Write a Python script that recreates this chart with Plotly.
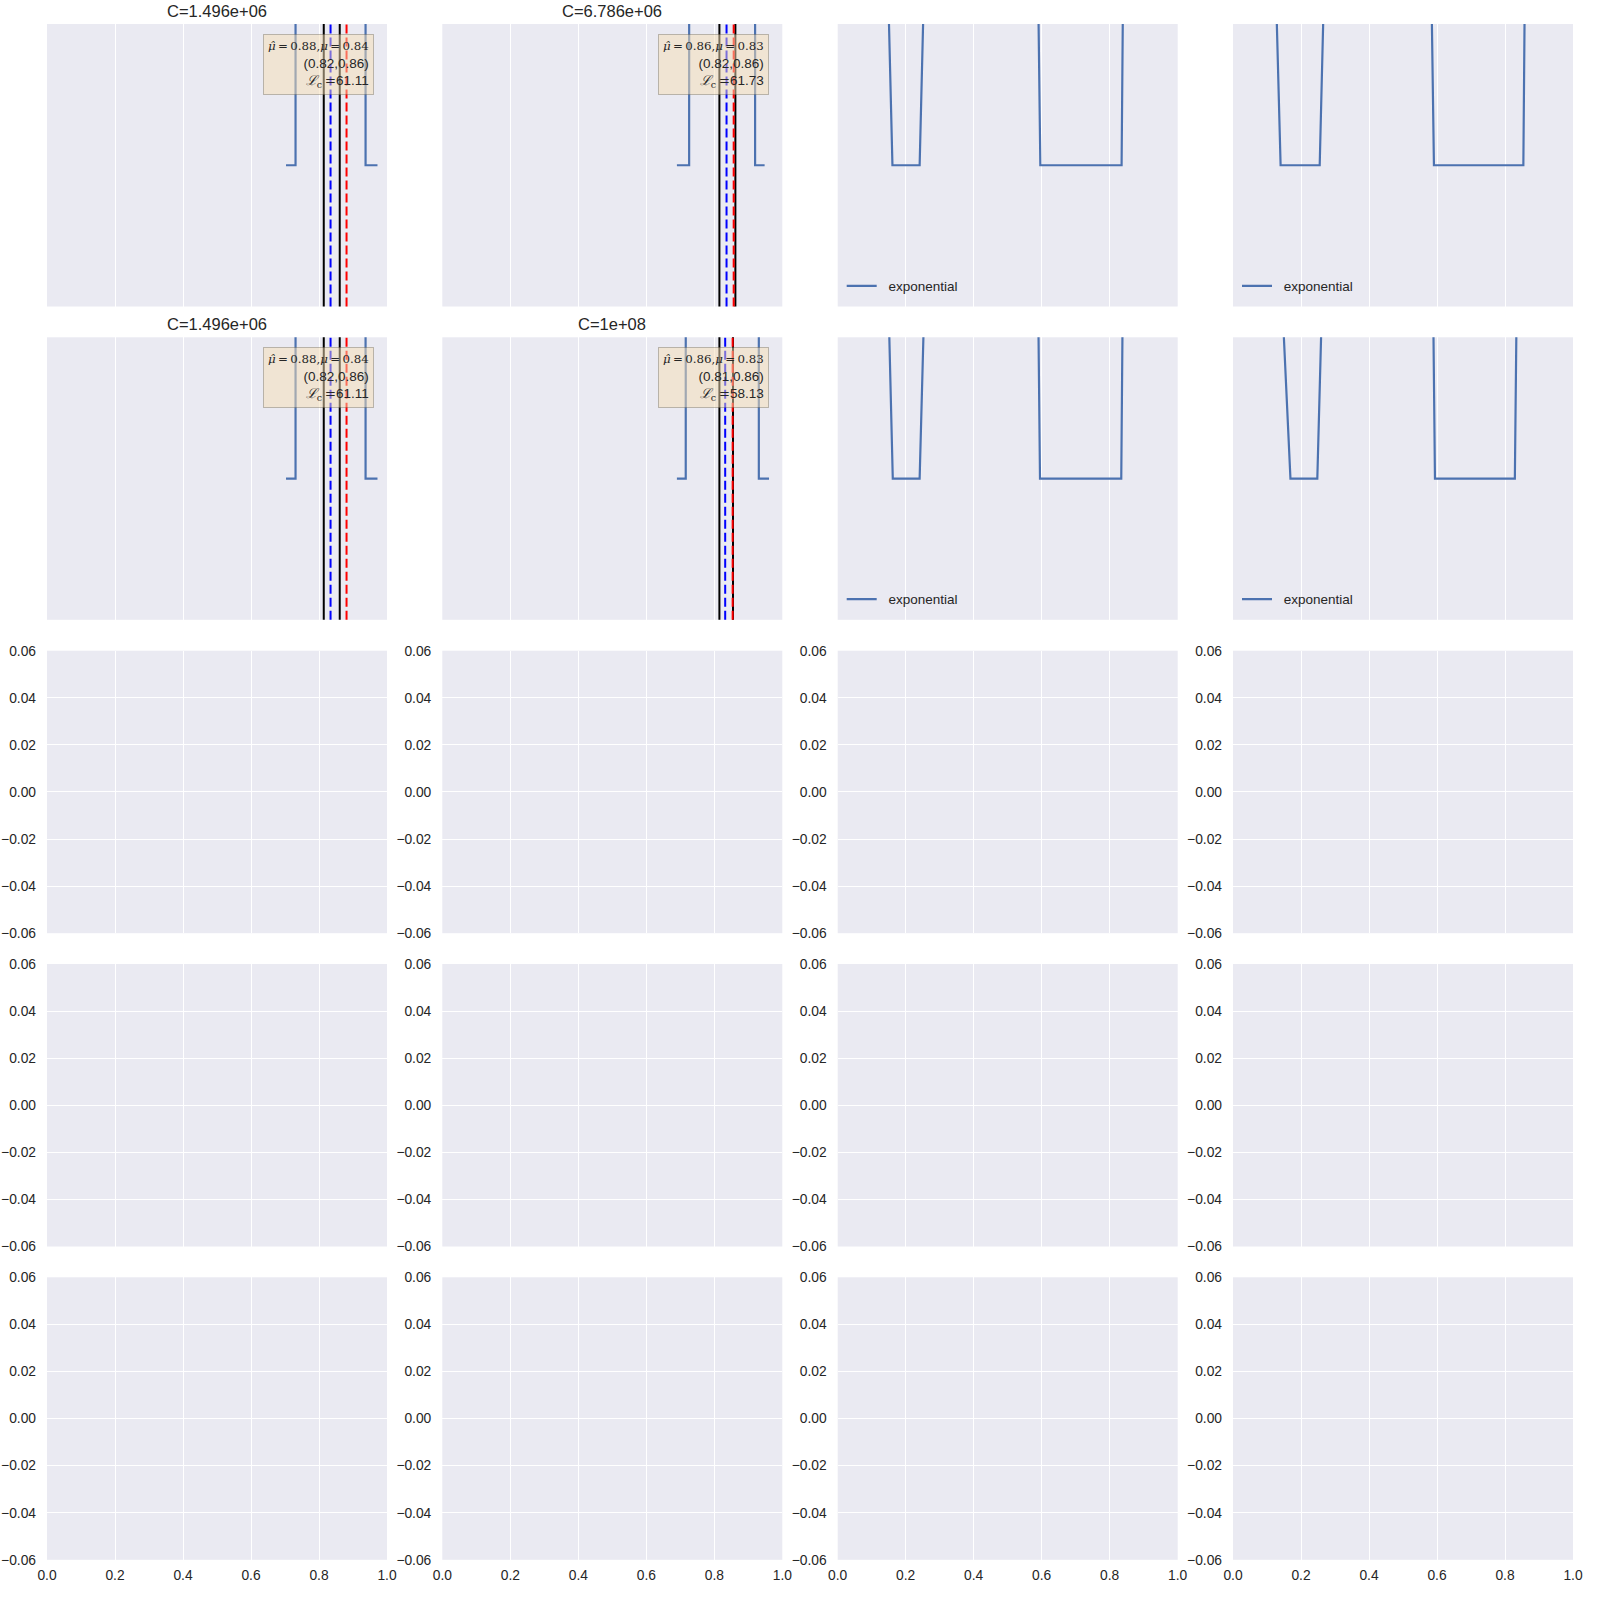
import plotly.graph_objects as go

# ---------------- data ----------------
# density-like curves (rows 1-2, cols 1-2)
post_x_r1c1 = [0.703, 0.731, 0.733, 0.80, 0.86, 0.935, 0.937, 0.972]
post_y_r1c1 = [0.0, 0.0, 3.0, 12.0, 12.0, 3.0, 0.0, 0.0]
post_x_r1c2 = [0.690, 0.726, 0.728, 0.79, 0.86, 0.918, 0.920, 0.948]
post_y_r1c2 = [0.0, 0.0, 3.0, 12.0, 12.0, 3.0, 0.0, 0.0]
post_x_r2c1 = [0.703, 0.731, 0.733, 0.80, 0.86, 0.935, 0.937, 0.972]
post_y_r2c1 = [0.0, 0.0, 3.0, 12.0, 12.0, 3.0, 0.0, 0.0]
post_x_r2c2 = [0.690, 0.716, 0.718, 0.79, 0.86, 0.929, 0.931, 0.961]
post_y_r2c2 = [0.0, 0.0, 3.0, 12.0, 12.0, 3.0, 0.0, 0.0]

# "exponential" curves (rows 1-2, cols 3-4)
exp_x_r1c3 = [0.0, 0.150, 0.161, 0.241, 0.252, 0.42, 0.590, 0.596, 0.835, 0.839, 1.0]
exp_y_r1c3 = [0.45, 0.065, 0.0, 0.0, 0.065, 0.30, 0.070, 0.0, 0.0, 0.070, 0.45]
exp_x_r1c4 = [0.0, 0.128, 0.140, 0.255, 0.266, 0.42, 0.584, 0.591, 0.854, 0.858, 1.0]
exp_y_r1c4 = [0.45, 0.065, 0.0, 0.0, 0.065, 0.30, 0.070, 0.0, 0.0, 0.070, 0.45]
exp_x_r2c3 = [0.0, 0.151, 0.162, 0.241, 0.253, 0.42, 0.590, 0.595, 0.834, 0.838, 1.0]
exp_y_r2c3 = [0.45, 0.065, 0.0, 0.0, 0.065, 0.30, 0.070, 0.0, 0.0, 0.070, 0.45]
exp_x_r2c4 = [0.0, 0.148, 0.169, 0.248, 0.260, 0.42, 0.589, 0.594, 0.829, 0.834, 1.0]
exp_y_r2c4 = [0.45, 0.065, 0.0, 0.0, 0.065, 0.30, 0.070, 0.0, 0.0, 0.070, 0.45]

# vertical markers, order: r1c1, r1c2, r2c1, r2c2
ci_lo = [0.814, 0.815, 0.814, 0.815]
ci_hi = [0.861, 0.862, 0.861, 0.855]
mu_true = [0.834, 0.836, 0.834, 0.832]
mu_hat = [0.881, 0.857, 0.881, 0.854]
mu_hat_txt = ["0.88", "0.86", "0.88", "0.86"]
mu_txt = ["0.84", "0.83", "0.84", "0.83"]
ci_txt = ["(0.82,0.86)", "(0.82,0.86)", "(0.82,0.86)", "(0.81,0.86)"]
lc_txt = ["61.11", "61.73", "61.11", "58.13"]
c_titles = ["C=1.496e+06", "C=6.786e+06", "C=1.496e+06", "C=1e+08"]

x_ticks = [0.0, 0.2, 0.4, 0.6, 0.8, 1.0]
x_ticktext = ["0.0", "0.2", "0.4", "0.6", "0.8", "1.0"]
y_ticks = [-0.06, -0.04, -0.02, 0.0, 0.02, 0.04, 0.06]
y_ticktext = ["\u22120.06", "\u22120.04", "\u22120.02", "0.00", "0.02", "0.04", "0.06"]

# ---------------- layout geometry ----------------
W = H = 1600
col_left = [47, 442.3, 837.7, 1233]
panel_w = 340
row_top = [24, 337.3, 650.7, 964, 1277.3]
panel_h = 282.5

TXT = "#262626"
BLUE = "#4C72B0"
SANS = "Liberation Sans"
SERIF = "DejaVu Serif"

fig = go.Figure()
layout = dict(
    width=W, height=H, margin=dict(l=0, r=0, t=0, b=0, autoexpand=False),
    paper_bgcolor="white", plot_bgcolor="#EAEAF2",
    font=dict(family=SANS, size=13.5, color=TXT),
    showlegend=True,
)

def ax_id(r, c):
    return r * 4 + c + 1

def ref(r, c):
    k = ax_id(r, c)
    s = "" if k == 1 else str(k)
    return "x" + s, "y" + s

for r in range(5):
    for c in range(4):
        k = ax_id(r, c)
        sx = "" if k == 1 else str(k)
        x0 = col_left[c] / W
        x1 = (col_left[c] + panel_w) / W
        y1 = 1 - row_top[r] / H
        y0 = 1 - (row_top[r] + panel_h) / H
        layout["xaxis" + sx] = dict(
            domain=[x0, x1], anchor="y" + sx, range=[0, 1],
            tickvals=x_ticks, ticktext=x_ticktext,
            showticklabels=(r == 4), showgrid=True, gridcolor="white", gridwidth=1,
            zeroline=False, showline=False, ticks="", ticklabelstandoff=5,
            tickfont=dict(size=13.8, color=TXT),
        )
        ylab = r >= 2
        yax = dict(
            domain=[y0, y1], anchor="x" + sx, range=[-0.06, 0.06],
            showticklabels=ylab, showgrid=ylab, gridcolor="white", gridwidth=1,
            zeroline=False, showline=False, ticks="",
        )
        if ylab:
            yax.update(tickvals=y_ticks, ticktext=y_ticktext, ticklabelstandoff=10,
                       tickfont=dict(size=13.8, color=TXT))
        layout["yaxis" + sx] = yax
        if r >= 2:
            xr, yr = ref(r, c)
            # empty panel: an empty trace so the subplot is created
            fig.add_trace(go.Scatter(x=[None], y=[None], mode="lines", xaxis=xr, yaxis=yr,
                                     showlegend=False, hoverinfo="skip"))

fig.update_layout(**layout)

# density curves + markers
post = [(0, 0, post_x_r1c1, post_y_r1c1), (0, 1, post_x_r1c2, post_y_r1c2),
        (1, 0, post_x_r2c1, post_y_r2c1), (1, 1, post_x_r2c2, post_y_r2c2)]
annotations = []
shapes = []
for i, (r, c, xs, ys) in enumerate(post):
    xr, yr = ref(r, c)
    fig.add_trace(go.Scatter(x=xs, y=ys, mode="lines", xaxis=xr, yaxis=yr,
                             line=dict(color=BLUE, width=2.2), showlegend=False))
    for xv in (ci_lo[i], ci_hi[i]):
        shapes.append(dict(type="line", xref=xr, yref=yr + " domain", x0=xv, x1=xv, y0=0, y1=1,
                           line=dict(color="black", width=2)))
    shapes.append(dict(type="line", xref=xr, yref=yr + " domain", x0=mu_true[i], x1=mu_true[i], y0=0, y1=1,
                       line=dict(color="blue", width=2, dash="9px,4px")))
    shapes.append(dict(type="line", xref=xr, yref=yr + " domain", x0=mu_hat[i], x1=mu_hat[i], y0=0, y1=1,
                       line=dict(color="red", width=2, dash="9px,4px")))
    line1 = (f"<span style='font-family:{SERIF};font-size:11.8px'><i>\u03bc\u0302</i>\u2009=\u2009{mu_hat_txt[i]},"
             f"<i>\u03bc</i>\u2009=\u2009{mu_txt[i]}</span>")
    line3 = (f"<span style='font-family:{SERIF}'><i>\u2112</i><sub>c</sub>\u2009=</span>{lc_txt[i]}")
    annotations.append(dict(
        xref="paper", yref="paper",
        x=(col_left[c] + 327) / W, y=1 - (row_top[r] + 10) / H,
        xanchor="right", yanchor="top", align="right", showarrow=False,
        text=line1 + "<br>" + ci_txt[i] + "<br>" + line3,
        font=dict(size=13.5, color=TXT, family=SANS),
        bgcolor="rgba(245,222,179,0.5)", bordercolor="rgba(90,80,60,0.35)", borderwidth=1, borderpad=4,
    ))
    annotations.append(dict(
        xref="paper", yref="paper",
        x=(col_left[c] + panel_w / 2) / W, y=1 - (row_top[r] - 2) / H,
        xanchor="center", yanchor="bottom", showarrow=False,
        text=c_titles[i], font=dict(size=16.5, color=TXT, family=SANS),
    ))

# exponential curves with legends
expo = [(0, 2, exp_x_r1c3, exp_y_r1c3, "legend"), (0, 3, exp_x_r1c4, exp_y_r1c4, "legend2"),
        (1, 2, exp_x_r2c3, exp_y_r2c3, "legend3"), (1, 3, exp_x_r2c4, exp_y_r2c4, "legend4")]
legends = {}
for r, c, xs, ys, lg in expo:
    xr, yr = ref(r, c)
    fig.add_trace(go.Scatter(x=xs, y=ys, mode="lines", xaxis=xr, yaxis=yr, name="\u2002exponential",
                             line=dict(color=BLUE, width=2.2), showlegend=True, legend=lg))
    legends[lg] = dict(
        x=(col_left[c] + 4) / W, y=1 - (row_top[r] + panel_h - 5) / H,
        xanchor="left", yanchor="bottom", bgcolor="rgba(0,0,0,0)", borderwidth=0,
        itemwidth=30,
        font=dict(size=13.5, color=TXT, family=SANS),
    )

fig.update_layout(shapes=shapes, annotations=annotations, **legends)
fig.write_html("out.html")
